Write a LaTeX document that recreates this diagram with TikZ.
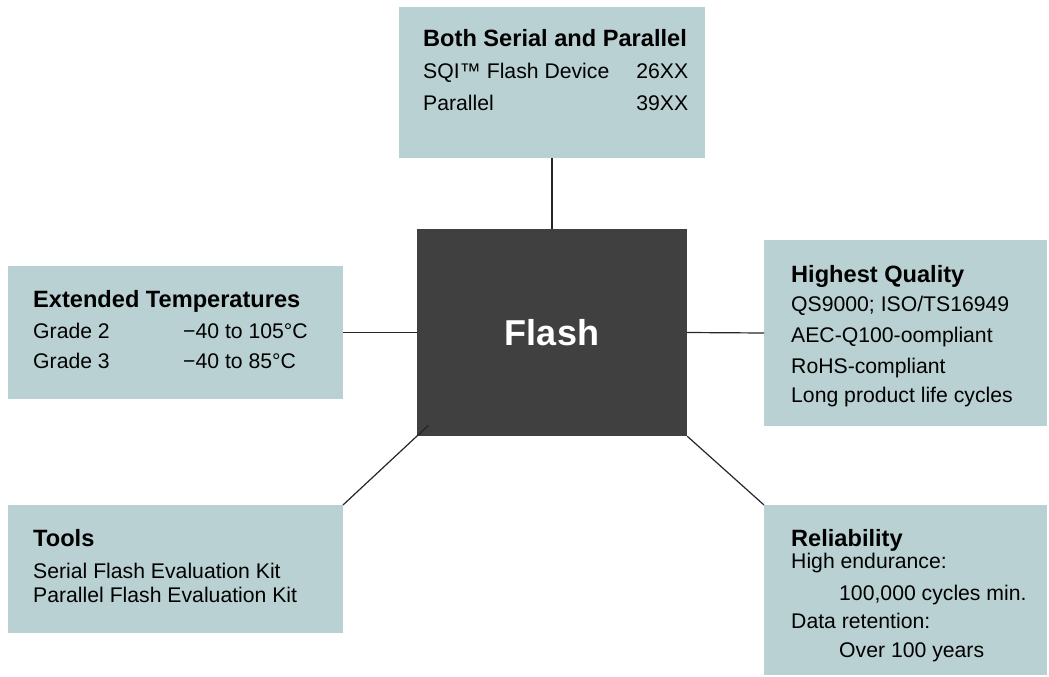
\documentclass[tikz,border=0pt]{standalone}
\usepackage{fontspec}
\setmainfont{Liberation Sans}
\usetikzlibrary{positioning}
\definecolor{panelteal}{RGB}{185,209,210}
\definecolor{flashgray}{RGB}{64,64,64}
\newcommand{\bodyfont}{\fontsize{21.2}{24}\selectfont}
\newcommand{\headfont}{\fontsize{23.6}{24}\selectfont\bfseries}

\begin{document}
\begin{tikzpicture}[x=1pt, y=-1pt,
    panel/.style={rectangle, fill=panelteal, anchor=north west, inner sep=0pt, outer sep=0pt},
    blurb/.style={anchor=base west, inner sep=0pt, font=\bodyfont},
    link/.style={draw=black!85, line width=1.2pt}]

    \useasboundingbox (0,0) rectangle (1049,677);

    % Centre
    \node[rectangle, fill=flashgray, minimum width=270pt, minimum height=207pt, inner sep=0pt,
          text=white, font=\fontsize{36}{40}\selectfont\bfseries] (flash) at (552,332.5) {Flash};

    % Panels
    \node[panel, minimum width=306pt, minimum height=151pt] (serialbox) at (399,7) {};
    \node[panel, minimum width=335pt, minimum height=133pt] (tempbox) at (8,266) {};
    \node[panel, minimum width=283pt, minimum height=186pt] (qualitybox) at (764,240) {};
    \node[panel, minimum width=335pt, minimum height=128pt] (toolsbox) at (8,505) {};
    \node[panel, minimum width=283pt, minimum height=170pt] (reliabilitybox) at (764,505) {};

    % Texts
    \node[blurb] (serialtext) at (423,47) {\begin{tabular*}{265pt}[t]{@{\extracolsep{\fill}}lr@{}}
        \multicolumn{2}{@{}l@{}}{\headfont Both Serial and Parallel}\\[8pt]
        SQI™ Flash Device & 26XX\\[7pt]
        Parallel & 39XX
    \end{tabular*}};
    \node[blurb] (temptext) at (33,307) {\begin{tabular}[t]{@{}p{150pt}@{}l@{}}
        \multicolumn{2}{@{}l@{}}{\headfont Extended Temperatures}\\[7pt]
        Grade 2 & −40 to 105°C\\[6pt]
        Grade 3 & −40 to 85°C
    \end{tabular}};
    \node[blurb] (qualitytext) at (791,282) {\begin{tabular}[t]{@{}l@{}}
        {\headfont Highest Quality}\\[5pt]
        QS9000; ISO/TS16949\\[7pt]
        AEC-Q100-oompliant\\[7pt]
        RoHS-compliant\\[5pt]
        Long product life cycles
    \end{tabular}};
    \node[blurb] (toolstext) at (33,546) {\begin{tabular}[t]{@{}l@{}}
        {\headfont Tools}\\[8pt]
        Serial Flash Evaluation Kit\\
        Parallel Flash Evaluation Kit
    \end{tabular}};
    \node[blurb] (reliabilitytext) at (791,546) {\begin{tabular}[t]{@{}l@{}}
        {\headfont Reliability}\\[-2pt]
        High endurance:\\[8pt]
        \hspace*{48pt}100,000 cycles min.\\[4pt]
        Data retention:\\[5pt]
        \hspace*{48pt}Over 100 years
    \end{tabular}};

    % Connectors
    \draw[link] (serialbox.south) -- (flash.north);
    \draw[link] (tempbox.east) -- (flash.west);
    \draw[link] (flash.east) -- (qualitybox.west);
    \draw[link, shorten >=-16pt] (toolsbox.north east) -- (flash.south west);
    \draw[link] (flash.south east) -- (reliabilitybox.north west);

\end{tikzpicture}
\end{document}
